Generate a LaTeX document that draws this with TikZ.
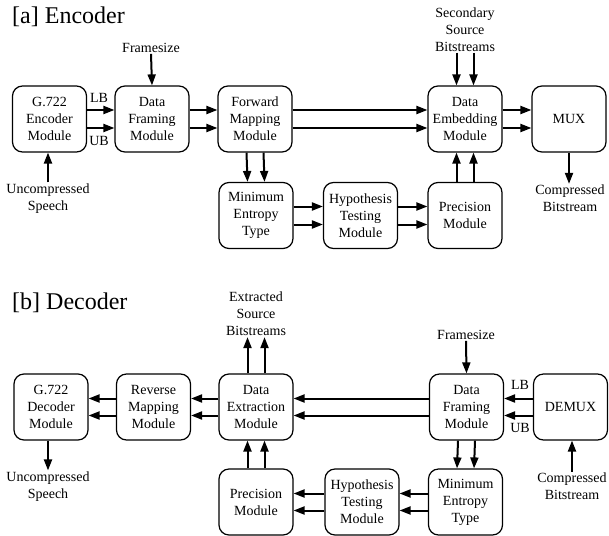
\documentclass[tikz,border=0pt]{standalone}
\usepackage{fontspec}
\setmainfont{Liberation Serif}
\usetikzlibrary{arrows.meta}
\begin{document}
\begin{tikzpicture}[x=1pt,y=-1pt,
  blk/.style={draw, line width=1.2pt, rounded corners=10pt, minimum width=74pt, minimum height=66pt,
    align=center, inner sep=0pt, font=\fontsize{14}{17}\selectfont},
  lbl/.style={align=center, inner sep=1pt, font=\fontsize{14}{17}\selectfont},
  ttl/.style={inner sep=0pt, anchor=west, font=\fontsize{24}{28}\selectfont},
  arr/.style={line width=2pt, -{Triangle[length=11pt,width=8pt]}}]
\useasboundingbox (0,0) rectangle (609,535);
% ---------- Encoder ----------
\node[ttl] (ta) at (12,17) {[a] Encoder};
\node[blk] (enc) at (49.5,119) {G.722\\Encoder\\Module};
\node[blk] (dfm) at (152,119) {Data\\Framing\\Module};
\node[blk] (fmm) at (255,119) {Forward\\Mapping\\Module};
\node[blk] (dem) at (465,119) {Data\\Embedding\\Module};
\node[blk] (mux) at (569,119) {MUX};
\node[blk] (met) at (256,215.5) {Minimum\\Entropy\\Type};
\node[blk] (htm) at (360.5,215.5) {Hypothesis\\Testing\\Module};
\node[blk] (pm) at (465,215.5) {Precision\\Module};
\node[lbl] (fs) at (151,48) {Framesize};
\node[lbl] (us) at (48,198.5) {Uncompressed\\Speech};
\node[lbl] (ss) at (465,29.5) {Secondary\\Source\\Bitstreams};
\node[lbl] (cb) at (570,198.5) {Compressed\\Bitstream};
\node[lbl] (lb) at (99,98) {LB};
\node[lbl] (ub) at (99,141) {UB};
\foreach \s in {9,-9}{
  \draw[arr] ([yshift=\s pt]enc.east) -- ([yshift=\s pt]dfm.west);
  \draw[arr] ([yshift=\s pt]dfm.east) -- ([yshift=\s pt]fmm.west);
  \draw[arr] ([yshift=\s pt]fmm.east) -- ([yshift=\s pt]dem.west);
  \draw[arr] ([yshift=\s pt]dem.east) -- ([yshift=\s pt]mux.west);
  \draw[arr] ([yshift=\s pt]met.east) -- ([yshift=\s pt]htm.west);
  \draw[arr] ([yshift=\s pt]htm.east) -- ([yshift=\s pt]pm.west);
}
\foreach \s in {-8.5,8.5}{
  \draw[arr] ([xshift=\s pt]fmm.south) -- ([xshift=\s pt]met.north);
  \draw[arr] ([xshift=\s pt]pm.north) -- ([xshift=\s pt]dem.south);
  \draw[arr] ([xshift=\s pt]ss.south) -- ([xshift=\s pt]dem.north);
}
\draw[arr] (fs.south) -- (dfm.north);
\draw[arr] (us.north) -- (us.north |- enc.south);
\draw[arr] (mux.south) -- (mux.south |- cb.north);
% ---------- Decoder ----------
\node[ttl] (tb) at (12,303) {[b] Decoder};
\node[blk] (gdm) at (51,407) {G.722\\Decoder\\Module};
\node[blk] (rmm) at (153.5,407) {Reverse\\Mapping\\Module};
\node[blk] (dxm) at (256,407) {Data\\Extraction\\Module};
\node[blk] (dfd) at (466.5,407) {Data\\Framing\\Module};
\node[blk] (dmx) at (570.5,407) {DEMUX};
\node[blk] (pmd) at (256,502) {Precision\\Module};
\node[blk] (htd) at (362,502) {Hypothesis\\Testing\\Module};
\node[blk] (med) at (465.5,502) {Minimum\\Entropy\\Type};
\node[lbl] (es) at (256,314) {Extracted\\Source\\Bitstreams};
\node[lbl] (fsd) at (466,335) {Framesize};
\node[lbl] (usd) at (48,486.5) {Uncompressed\\Speech};
\node[lbl] (cbd) at (572,486.5) {Compressed\\Bitstream};
\node[lbl] (lbd) at (520,385) {LB};
\node[lbl] (ubd) at (520,428) {UB};
\foreach \s in {8.5,-8.5}{
  \draw[arr] ([yshift=\s pt]rmm.west) -- ([yshift=\s pt]gdm.east);
  \draw[arr] ([yshift=\s pt]dxm.west) -- ([yshift=\s pt]rmm.east);
  \draw[arr] ([yshift=\s pt]dfd.west) -- ([yshift=\s pt]dxm.east);
  \draw[arr] ([yshift=\s pt]dmx.west) -- ([yshift=\s pt]dfd.east);
  \draw[arr] ([yshift=\s pt]med.west) -- ([yshift=\s pt]htd.east);
  \draw[arr] ([yshift=\s pt]htd.west) -- ([yshift=\s pt]pmd.east);
}
\foreach \s in {-8.5,8.5}{
  \draw[arr] ([xshift=\s pt]dxm.north) -- ([xshift=\s pt]es.south);
  \draw[arr] ([xshift=\s pt]pmd.north) -- ([xshift=\s pt]dxm.south);
  \draw[arr] ([xshift=\s pt]dfd.south) -- ([xshift=\s pt]med.north);
}
\draw[arr] (fsd.south) -- (dfd.north);
\draw[arr] (gdm.south -| usd.north) -- (usd.north);
\draw[arr] (cbd.north) -- (cbd.north |- dmx.south);
\end{tikzpicture}
\end{document}
